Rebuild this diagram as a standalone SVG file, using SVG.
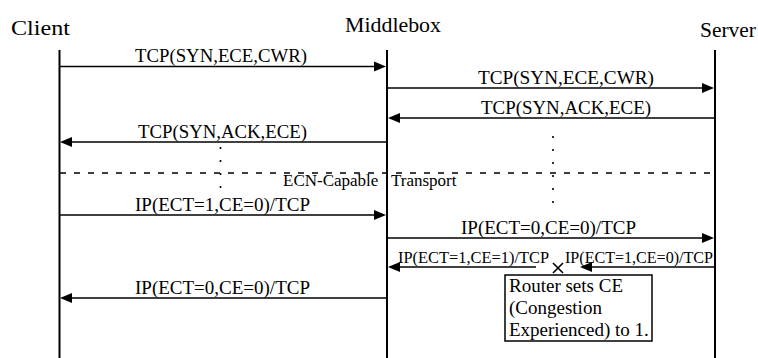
<svg xmlns="http://www.w3.org/2000/svg" width="758" height="358" viewBox="0 0 758 358">
<rect width="758" height="358" fill="#fff"/>
<g id="client">
<text font-family="Liberation Serif" font-size="22" x="11" y="35" textLength="59" lengthAdjust="spacingAndGlyphs">Client</text>
<line stroke="#000" stroke-width="2" x1="59.5" y1="50" x2="59.5" y2="358"/>
</g>
<g id="middlebox">
<text font-family="Liberation Serif" font-size="22" x="345" y="32" textLength="96" lengthAdjust="spacingAndGlyphs">Middlebox</text>
<line stroke="#000" stroke-width="2" x1="387" y1="50" x2="387" y2="358"/>
</g>
<g id="server">
<text font-family="Liberation Serif" font-size="22" x="700" y="37" textLength="56" lengthAdjust="spacingAndGlyphs">Server</text>
<line stroke="#000" stroke-width="2" x1="715" y1="50" x2="715" y2="358"/>
</g>
<g id="ect-region">
<line x1="60" y1="173" x2="715" y2="173" stroke="#000" stroke-width="1.4" stroke-dasharray="6 8"/>
<text font-family="Liberation Serif" font-size="17" y="186"><tspan x="283">ECN-Capable</tspan><tspan x="391">Transport</tspan></text>
</g>
<g id="router-note">
<rect x="505" y="275" width="147" height="66" fill="#fff" stroke="#000" stroke-width="1.5"/>
<text font-family="Liberation Serif" font-size="19" x="509" y="292">Router sets CE</text>
<text font-family="Liberation Serif" font-size="19" x="509" y="314">(Congestion</text>
<text font-family="Liberation Serif" font-size="19" x="509" y="336">Experienced) to 1.</text>
</g>
<g id="drop-mark">
<path d="M553,263 L563,273 M563,263 L553,273" stroke="#000" stroke-width="1.6"/>
</g>
<g id="connectors" stroke="#000" stroke-width="1.6" fill="none">
<line x1="60" y1="66.5" x2="376" y2="66.5"/>
<line x1="388" y1="88" x2="704" y2="88"/>
<line x1="714" y1="118" x2="398" y2="118"/>
<line x1="386" y1="142" x2="70" y2="142"/>
<line stroke-dasharray="2 11" x1="220.5" y1="147" x2="220.5" y2="189"/>
<line stroke-dasharray="2 11" x1="553" y1="136" x2="553" y2="204"/>
<line x1="60" y1="215" x2="376" y2="215"/>
<line x1="388" y1="238" x2="704" y2="238"/>
<line x1="714" y1="267" x2="590" y2="267"/>
<line x1="536" y1="267" x2="398" y2="267"/>
<line x1="386" y1="298" x2="70" y2="298"/>
</g>
<g id="arrowheads" fill="#000" stroke="none">
<path d="M386,66.5 l-12,-5 v10 z"/>
<path d="M714,88 l-12,-5 v10 z"/>
<path d="M388,118 l12,-5 v10 z"/>
<path d="M60,142 l12,-5 v10 z"/>
<path d="M386,215 l-12,-5 v10 z"/>
<path d="M714,238 l-12,-5 v10 z"/>
<path d="M580,267 l12,-5 v10 z"/>
<path d="M388,267 l12,-5 v10 z"/>
<path d="M60,298 l12,-5 v10 z"/>
</g>
<g id="labels">
<text font-family="Liberation Serif" font-size="19" x="135" y="62" textLength="172" lengthAdjust="spacingAndGlyphs">TCP(SYN,ECE,CWR)</text>
<text font-family="Liberation Serif" font-size="19" x="478" y="84" textLength="176" lengthAdjust="spacingAndGlyphs">TCP(SYN,ECE,CWR)</text>
<text font-family="Liberation Serif" font-size="19" x="481" y="114" textLength="170" lengthAdjust="spacingAndGlyphs">TCP(SYN,ACK,ECE)</text>
<text font-family="Liberation Serif" font-size="19" x="138" y="138" textLength="169" lengthAdjust="spacingAndGlyphs">TCP(SYN,ACK,ECE)</text>
<text font-family="Liberation Serif" font-size="19" x="135" y="211" textLength="175" lengthAdjust="spacingAndGlyphs">IP(ECT=1,CE=0)/TCP</text>
<text font-family="Liberation Serif" font-size="19" x="461" y="234" textLength="175" lengthAdjust="spacingAndGlyphs">IP(ECT=0,CE=0)/TCP</text>
<text font-family="Liberation Serif" font-size="16" x="565" y="263" textLength="148" lengthAdjust="spacingAndGlyphs">IP(ECT=1,CE=0)/TCP</text>
<text font-family="Liberation Serif" font-size="16" x="398" y="263" textLength="151" lengthAdjust="spacingAndGlyphs">IP(ECT=1,CE=1)/TCP</text>
<text font-family="Liberation Serif" font-size="19" x="135" y="294" textLength="175" lengthAdjust="spacingAndGlyphs">IP(ECT=0,CE=0)/TCP</text>
</g>
</svg>
